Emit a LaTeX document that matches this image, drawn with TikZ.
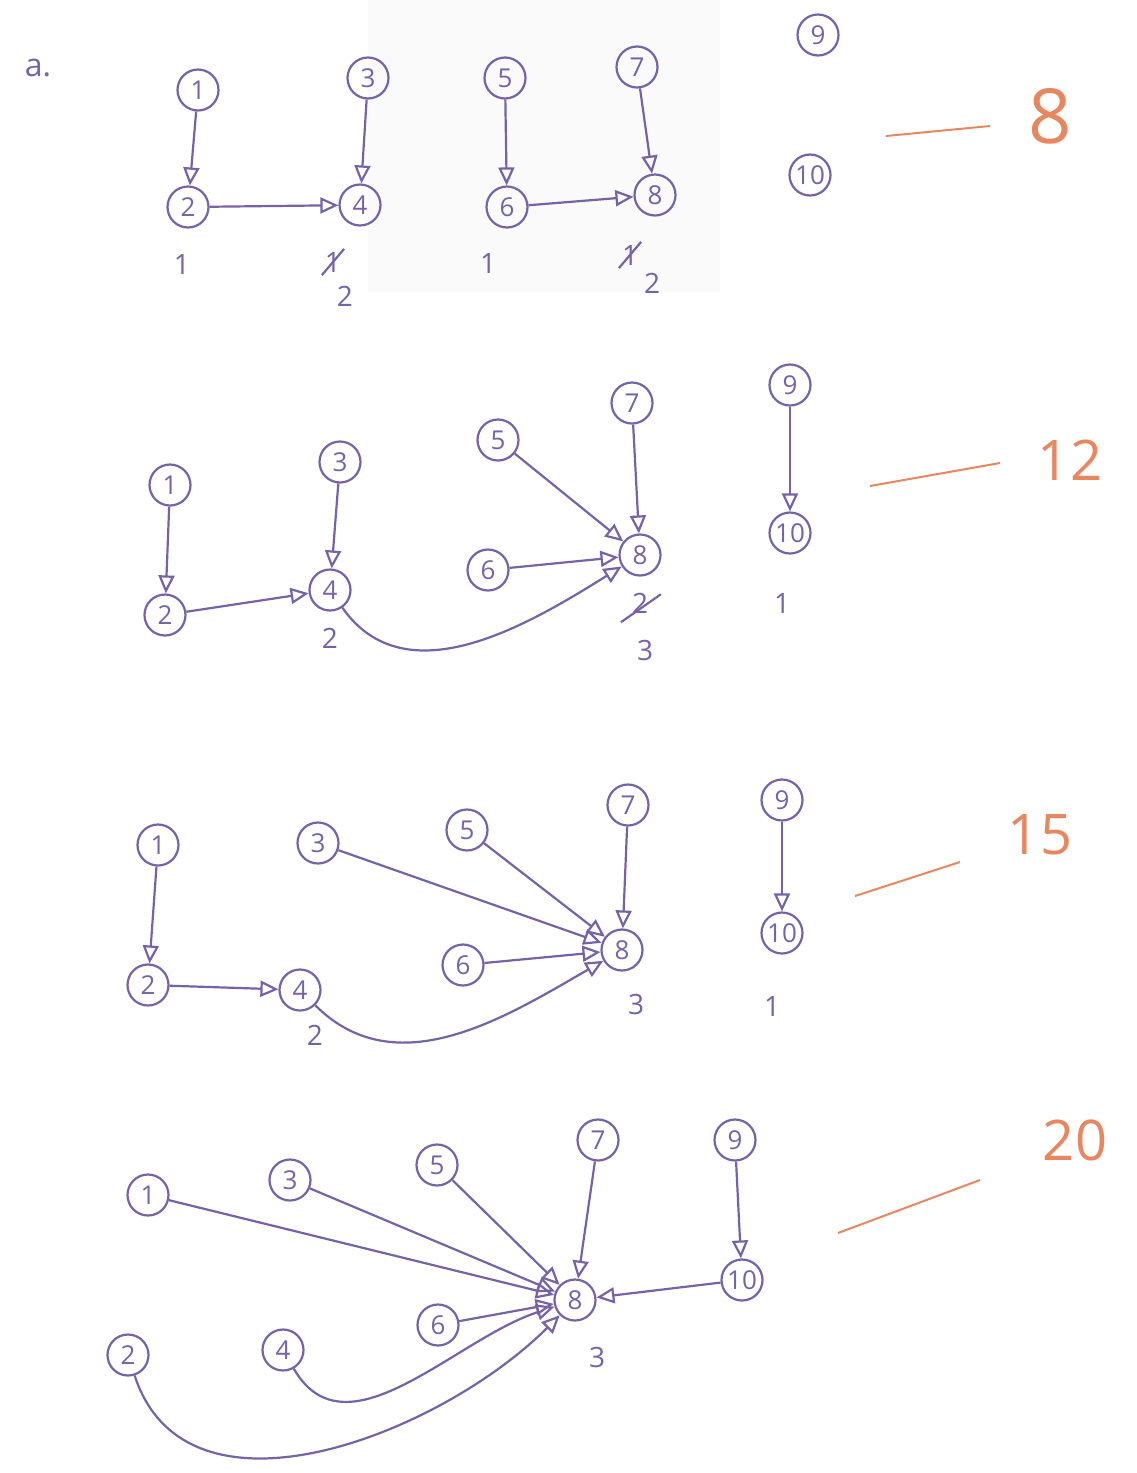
\documentclass[tikz,border=0pt]{standalone}
\usepackage{fontspec}
\setmainfont{Open Sans}
\usetikzlibrary{arrows.meta}
\definecolor{ink}{RGB}{118,98,168}
\definecolor{redpen}{RGB}{232,135,95}
\begin{document}
\begin{tikzpicture}[x=0.5pt,y=-0.5pt,line width=1.1pt,ink,
	vtx/.style={circle,draw,minimum size=20.5pt,inner sep=1pt,font=\fontsize{13}{13}\selectfont},
	edge/.style={-{Triangle[open,length=9pt,width=8pt]}},
	cnt/.style={inner sep=1pt,font=\fontsize{14}{14}\selectfont},
	score/.style={redpen,font=\fontsize{28}{28}\selectfont},
	tick/.style={redpen,line width=1pt}]
	\useasboundingbox (0,0) rectangle (1136,1473);
	\fill[black!2] (368,0) rectangle (720,292);
	\node[cnt,font=\fontsize{16}{16}\selectfont] (lbl) at (38,68) {a.};
	% first stage
		\node[vtx] (a1) at (198,90) {1};
		\node[vtx] (a2) at (188,207) {2};
		\node[vtx] (a3) at (368,78) {3};
		\node[vtx] (a4) at (360,205) {4};
		\node[vtx] (a5) at (505,78) {5};
		\node[vtx] (a6) at (507,207) {6};
		\node[vtx] (a7) at (637,67) {7};
		\node[vtx] (a8) at (655,195) {8};
		\node[vtx] (a9) at (818,35) {9};
		\node[vtx] (a10) at (810,175) {10};
		\draw[edge] (a1) -- (a2);
		\draw[edge] (a3) -- (a4);
		\draw[edge] (a5) -- (a6);
		\draw[edge] (a7) -- (a8);
		\draw[edge] (a2) -- (a4);
		\draw[edge] (a6) -- (a8);
		% sizes
		\node[cnt] (a2s) at (182,264) {1};
		\node[cnt] (a4x) at (333,262) {1};
		\draw (a4x.south west) -- (a4x.north east);
		\node[cnt] (a4s) at (345,296) {2};
		\node[cnt] (a6s) at (488,263) {1};
		\node[cnt] (a8x) at (630,255) {1};
		\draw (a8x.south west) -- (a8x.north east);
		\node[cnt] (a8s) at (652,283) {2};
		% cost
		\draw[tick] (886,136) -- (990,126);
		\node[score,font=\fontsize{38}{38}\selectfont] (c1) at (1050,116) {8};
	% second stage
		\node[vtx] (b1) at (170,485) {1};
		\node[vtx] (b2) at (165,615) {2};
		\node[vtx] (b3) at (340,462) {3};
		\node[vtx] (b4) at (330,590) {4};
		\node[vtx] (b5) at (498,440) {5};
		\node[vtx] (b6) at (488,570) {6};
		\node[vtx] (b7) at (632,403) {7};
		\node[vtx] (b8) at (640,555) {8};
		\node[vtx] (b9) at (790,385) {9};
		\node[vtx] (b10) at (790,533) {10};
		\draw[edge] (b1) -- (b2);
		\draw[edge] (b3) -- (b4);
		\draw[edge] (b2) -- (b4);
		\draw[edge] (b5) -- (b8);
		\draw[edge] (b7) -- (b8);
		\draw[edge] (b6) -- (b8);
		\draw[edge] (b4) to[out=-55,in=-148] (b8);
		\draw[edge] (b9) -- (b10);
		\node[cnt] (b4s) at (330,638) {2};
		\node[cnt] (b8x) at (640,603) {2};
		\draw (b8x.south west) ++(-8,6) -- ++(40,-28);
		\node[cnt] (b8s) at (645,650) {3};
		\node[cnt] (b10s) at (782,603) {1};
		\draw[tick] (870,486) -- (1000,463);
		\node[score] (c2) at (1070,460) {12};
	% third stage
		\node[vtx] (d1) at (158,845) {1};
		\node[vtx] (d2) at (148,985) {2};
		\node[vtx] (d3) at (318,843) {3};
		\node[vtx] (d4) at (300,990) {4};
		\node[vtx] (d5) at (467,830) {5};
		\node[vtx] (d6) at (463,965) {6};
		\node[vtx] (d7) at (628,805) {7};
		\node[vtx] (d8) at (622,950) {8};
		\node[vtx] (d9) at (782,800) {9};
		\node[vtx] (d10) at (782,933) {10};
		\draw[edge] (d1) -- (d2);
		\draw[edge] (d2) -- (d4);
		\draw[edge] (d3) -- (d8);
		\draw[edge] (d5) -- (d8);
		\draw[edge] (d7) -- (d8);
		\draw[edge] (d6) -- (d8);
		\draw[edge] (d4) to[out=-45,in=-150] (d8);
		\draw[edge] (d9) -- (d10);
		\node[cnt] (d4s) at (315,1035) {2};
		\node[cnt] (d8s) at (636,1004) {3};
		\node[cnt] (d10s) at (772,1006) {1};
		\draw[tick] (855,896) -- (960,862);
		\node[score] (c3) at (1040,835) {15};
	% last stage
		\node[vtx] (e1) at (148,1195) {1};
		\node[vtx] (e2) at (128,1355) {2};
		\node[vtx] (e3) at (290,1180) {3};
		\node[vtx] (e4) at (283,1350) {4};
		\node[vtx] (e5) at (437,1165) {5};
		\node[vtx] (e6) at (438,1325) {6};
		\node[vtx] (e7) at (598,1140) {7};
		\node[vtx] (e8) at (575,1300) {8};
		\node[vtx] (e9) at (735,1140) {9};
		\node[vtx] (e10) at (742,1280) {10};
		\draw[edge] (e1) -- (e8);
		\draw[edge] (e3) -- (e8);
		\draw[edge] (e5) -- (e8);
		\draw[edge] (e7) -- (e8);
		\draw[edge] (e6) -- (e8);
		\draw[edge] (e9) -- (e10);
		\draw[edge] (e10) -- (e8);
		\draw[edge] (e4) to[out=-60,in=-162] (e8);
		\draw[edge] (e2) to[out=-72,in=-135] (e8);
		\node[cnt] (e8s) at (597,1357) {3};
		\draw[tick] (838,1233) -- (980,1180);
		\node[score] (c4) at (1075,1140) {20};
\end{tikzpicture}
\end{document}
